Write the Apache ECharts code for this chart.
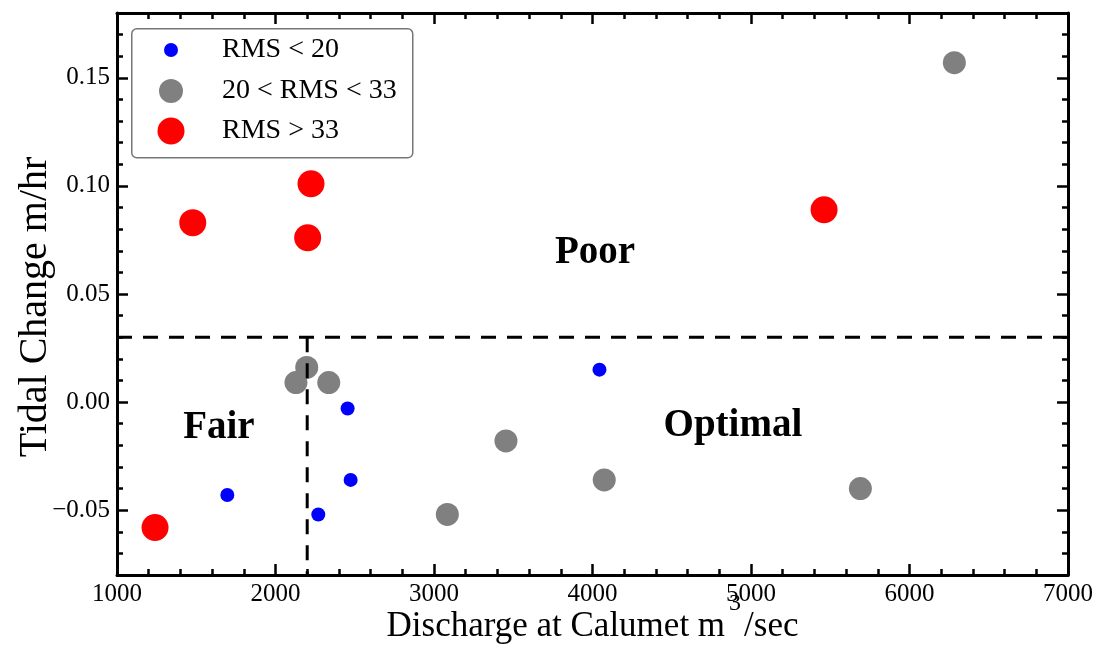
<!DOCTYPE html>
<html>
<head>
<meta charset="utf-8">
<title>Tidal change vs discharge</title>
<script src="https://cdn.jsdelivr.net/npm/echarts@6/dist/echarts.min.js"></script>
<style>
  html, body { margin: 0; padding: 0; background: #fff; }
  #chart { width: 1099px; height: 655px; }
</style>
</head>
<body>
<div id="chart"></div>
<script>
// RMS < 20
const blueX = [4044, 2455, 2474, 2270, 1696];
const blueY = [0.015, -0.003, -0.036, -0.052, -0.043];
// 20 < RMS < 33
const grayX = [6283, 2129, 2197, 2336, 3454, 3084, 4074, 5690];
const grayY = [0.157, 0.009, 0.016, 0.009, -0.018, -0.052, -0.036, -0.040];
// RMS > 33
const redX = [1478, 2224, 2203, 5461, 1240];
const redY = [0.083, 0.101, 0.076, 0.089, -0.058];

const seriesNames = ["RMS < 20", "20 < RMS < 33", "RMS > 33"];

// dashed threshold lines (discharge 2200, tidal change 0.03)
const limitX = [1000, 7000, 2200];
const limitY = [0.03, -0.08];

const regionNames = ["Poor", "Fair", "Optimal"];
const regionX = [4016, 1643, 4886];
const regionY = [0.069, -0.012, -0.011];

const yMajorTicks = [-0.05, 0, 0.05, 0.1, 0.15];

const serif = '"Liberation Serif", "DejaVu Serif", serif';

function pairs(xs, ys) {
  return xs.map((x, i) => [x, ys[i]]);
}

const chart = echarts.init(document.getElementById("chart"));

const tickStyle = { color: "#000", width: 2.5 };
const lineStyle = { color: "#000", width: 3 };

function xAxisOf(pos, withLabels) {
  return {
    type: "value",
    position: pos,
    min: 1000,
    max: 7000,
    interval: 1000,
    axisLine: { show: true, onZero: false, lineStyle: lineStyle },
    axisTick: { show: true, inside: true, length: 11, lineStyle: tickStyle },
    minorTick: { show: true, splitNumber: 5, length: 6, lineStyle: tickStyle },
    splitLine: { show: false },
    axisLabel: {
      show: withLabels,
      color: "#000",
      fontFamily: serif,
      fontSize: 25,
      margin: 7,
      formatter: (v) => String(v),
    },
  };
}

// y uses two axes per side: one for the 0.01 minor ticks, one for the labelled majors
function yMinorOf(pos) {
  return {
    type: "value",
    position: pos,
    min: -0.08,
    max: 0.18,
    interval: 0.01,
    axisLine: { show: true, onZero: false, lineStyle: lineStyle },
    axisTick: { show: true, inside: true, length: 6, lineStyle: tickStyle },
    splitLine: { show: false },
    axisLabel: { show: false },
  };
}

function yMajorOf(pos, withLabels) {
  return {
    type: "value",
    position: pos,
    min: -0.08,
    max: 0.18,
    axisLine: { show: false, onZero: false },
    axisTick: {
      show: true,
      inside: true,
      length: 11,
      lineStyle: tickStyle,
      customValues: yMajorTicks,
    },
    splitLine: { show: false },
    axisLabel: {
      show: withLabels,
      customValues: yMajorTicks,
      color: "#000",
      fontFamily: serif,
      fontSize: 25,
      margin: 7,
      formatter: (v) => v.toFixed(2).replace("-", "\u2212"),
    },
  };
}

const xBottom = xAxisOf("bottom", true);
xBottom.name = "{t|Discharge at Calumet m}{sup|3}{t|/sec}";
xBottom.nameLocation = "middle";
xBottom.nameGap = 17;
xBottom.nameMoveOverlap = false;
xBottom.nameTextStyle = {
  color: "#000",
  fontFamily: serif,
  fontSize: 35,
  verticalAlign: "top",
  rich: {
    t: { fontFamily: serif, fontSize: 35, color: "#000", lineHeight: 70 },
    sup: {
      fontFamily: serif,
      fontSize: 24,
      color: "#000",
      lineHeight: 10,
      verticalAlign: "top",
      padding: [0, 3, 0, 4],
    },
  },
};

const yLeftMajor = yMajorOf("left", true);
yLeftMajor.name = "Tidal Change m/hr";
yLeftMajor.nameLocation = "middle";
yLeftMajor.nameRotate = 90;
yLeftMajor.nameGap = 62;
yLeftMajor.nameMoveOverlap = false;
yLeftMajor.nameTextStyle = {
  color: "#000",
  fontFamily: serif,
  fontSize: 40,
  padding: [0, 26, 0, 0],
};

// one legend per series so each icon keeps its own marker size
function legendOf(name, size, top) {
  return {
    data: [name],
    left: 171 - size / 2,
    top: top,
    padding: 0,
    icon: "circle",
    itemWidth: size,
    itemHeight: size,
    selectedMode: false,
    textStyle: {
      color: "#000",
      fontFamily: serif,
      fontSize: 28,
      lineHeight: 28,
      padding: [0, 0, 0, 46 - size / 2],
    },
  };
}

function scatterOf(name, xs, ys, color, size) {
  return {
    name: name,
    type: "scatter",
    data: pairs(xs, ys),
    symbol: "circle",
    symbolSize: size,
    itemStyle: { color: color, opacity: 1 },
    z: 3,
  };
}

const dashed = { color: "#000", width: 3, type: [15, 11] };

chart.setOption({
  animation: false,
  backgroundColor: "#fff",
  grid: { left: 117, right: 31, top: 13, bottom: 80, outerBoundsMode: "none" },
  xAxis: [xBottom, xAxisOf("top", false)],
  yAxis: [yMinorOf("left"), yLeftMajor, yMinorOf("right"), yMajorOf("right", false)],
  legend: [
    legendOf(seriesNames[0], 14, 36),
    legendOf(seriesNames[1], 24, 77),
    legendOf(seriesNames[2], 27, 117),
  ],
  graphic: [
    {
      type: "rect",
      left: 131,
      top: 28,
      shape: { width: 281, height: 129, r: 5 },
      style: { fill: "#fff", stroke: "#777", lineWidth: 1.5 },
      z: 1,
    },
  ],
  series: [
    scatterOf(seriesNames[0], blueX, blueY, "#0000ff", 14),
    scatterOf(seriesNames[1], grayX, grayY, "#808080", 23),
    scatterOf(seriesNames[2], redX, redY, "#ff0000", 27),
    {
      type: "line",
      data: [[limitX[0], limitY[0]], [limitX[1], limitY[0]]],
      symbol: "none",
      lineStyle: dashed,
      z: 5,
      silent: true,
    },
    {
      type: "line",
      data: [[limitX[2], limitY[0]], [limitX[2], limitY[1]]],
      symbol: "none",
      lineStyle: dashed,
      z: 5,
      silent: true,
    },
    {
      type: "scatter",
      symbolSize: 0,
      itemStyle: { opacity: 1 },
      data: regionNames.map((n, i) => [regionX[i], regionY[i], n]),
      label: {
        show: true,
        position: "inside",
        formatter: (p) => p.data[2],
        color: "#000",
        fontFamily: serif,
        fontWeight: "bold",
        fontSize: 39,
      },
      silent: true,
    },
  ],
});
</script>
</body>
</html>
